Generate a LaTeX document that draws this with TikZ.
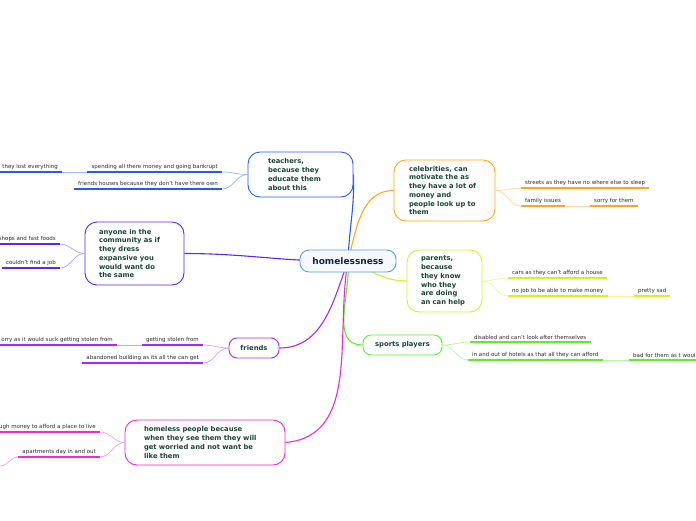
\documentclass[tikz,border=0pt]{standalone}
\usepackage{fontspec}
\setmainfont{DejaVu Sans}
\usetikzlibrary{backgrounds}

% branch colours
\definecolor{cteach}{RGB}{40,90,240}
\definecolor{cany}{RGB}{90,40,240}
\definecolor{cfriend}{RGB}{170,40,240}
\definecolor{chome}{RGB}{240,40,220}
\definecolor{cceleb}{RGB}{255,165,30}
\definecolor{cparent}{RGB}{210,240,40}
\definecolor{csport}{RGB}{90,240,40}
\definecolor{ccentre}{RGB}{90,160,220}
\definecolor{topictext}{RGB}{25,70,55}
\definecolor{centretext}{RGB}{20,35,70}
\definecolor{leaftext}{RGB}{45,45,45}

\tikzset{
  centre/.style={draw=ccentre, line width=0.9pt, rounded corners=9pt, fill=ccentre!6,
    text=centretext, font=\bfseries\fontsize{9}{11}\selectfont,
    minimum width=96pt, minimum height=22pt, inner sep=0pt},
  topic/.style={draw=#1, line width=0.9pt, rounded corners=12pt, fill=white,
    text=topictext, font=\bfseries\fontsize{6.8}{8.7}\selectfont,
    align=left, inner sep=0pt},
  pad/.style={execute at begin node={\leftskip=#1}},
  leaf/.style={inner xsep=4pt, inner ysep=2pt, text=leaftext,
    font=\fontsize{5.5}{6.5}\selectfont},
  leafline/.style={draw=#1, line width=1.6pt},
  branch/.style={draw=#1, line width=1.1pt},
  twig/.style={draw=#1!45, line width=0.7pt}
}

\begin{document}
\begin{tikzpicture}[x=1pt, y=-1pt]
    \useasboundingbox (0,0) rectangle (696,520);

    % centre and main topics
    \node[centre] (home) at (348,261) {homelessness};
    \coordinate (edge) at (0,466);

    \node[topic=cteach, text width=105pt, pad=20pt, minimum height=45pt] (teach) at (300.5,174.5)
        {teachers,\\because they\\educate them\\about this};
    \node[topic=cany, text width=99pt, pad=14pt, minimum height=63pt] (anyone) at (134.5,253.5)
        {anyone in the\\community as if\\they dress\\expansive you\\would want do\\the same};
    \node[topic=cfriend, minimum width=50pt, minimum height=20pt, rounded corners=8pt] (friends) at (254,348)
        {friends};
    \node[topic=chome, text width=160pt, pad=19pt, minimum height=45pt] (homeless) at (205,442.5)
        {homeless people because\\when they see them they will\\get worried and not want be\\like them};
    \node[topic=cceleb, text width=101pt, pad=15pt, minimum height=61pt] (celeb) at (444.5,190.5)
        {celebrities, can\\motivate the as\\they have a lot of\\money and\\people look up to\\them};
    \node[topic=cparent, text width=75pt, pad=14pt, minimum height=62pt] (parents) at (444.5,281)
        {parents,\\because\\they know\\who they\\are doing\\an can help};
    \node[topic=csport, minimum width=79pt, minimum height=20pt, rounded corners=8pt] (sports) at (402.5,345)
        {sports players};

    % main branches, under the boxes
    \begin{scope}[on background layer]
        \fill[white] (0,0) rectangle (696,520);
        \draw[branch=cteach] (home.center) to[out=88,in=-88] (teach.east);
        \draw[branch=cceleb] (home.center) to[out=75,in=180] (celeb.west);
        \draw[branch=cparent] (home.center) to[out=-20,in=180] (parents.west);
        \draw[branch=csport] (home.center) to[out=-85,in=180] (sports.west);
        \draw[branch=cany] (home.center) to[out=181,in=0] (anyone.east);
        \draw[branch=cfriend] (home.center) to[out=-110,in=0] (friends.east);
        \draw[branch=chome] (home.center) to[out=-100,in=5] (homeless.east);
    \end{scope}

    % teachers leaves
    \node[leaf, anchor=south east] (t1) at (222,172) {spending all there money and going bankrupt};
    \node[leaf, anchor=south east] (t1a) at (62,172) {they lost everything};
    \node[leaf, anchor=south east] (t2) at (222,189) {friends houses because they don't have there own};
    \draw[leafline=cteach] (t1.south west) -- (t1.south east);
    \draw[leafline=cteach] (t1a.south west) -- (t1a.south east);
    \draw[leafline=cteach] (t2.south west) -- (t2.south east);
    \draw[twig=cteach] (teach.west) to[out=180,in=0] (t1.south east);
    \draw[twig=cteach] (teach.west) to[out=180,in=0] (t2.south east);
    \draw[twig=cteach] (t1.south west) -- (t1a.south east);

    % anyone leaves
    \node[leaf, anchor=south east] (a1) at (60,244) {shops and fast foods};
    \node[leaf, anchor=south east] (a2) at (60,268) {couldn't find a job};
    \draw[leafline=cany] (a1.south west) -- (a1.south east);
    \draw[leafline=cany] (a2.south west) -- (a2.south east);
    \draw[twig=cany] (anyone.west) to[out=180,in=0] (a1.south east);
    \draw[twig=cany] (anyone.west) to[out=180,in=0] (a2.south east);

    % friends leaves
    \node[leaf, anchor=south east] (f1) at (203,345) {getting stolen from};
    \node[leaf, anchor=south east] (f1a) at (117,345) {orry as it would suck getting stolen from};
    \node[leaf, anchor=south east] (f2) at (203,363) {abandoned building as its all the can get};
    \draw[leafline=cfriend] (f1.south west) -- (f1.south east);
    \draw[leafline=cfriend] (f1a.south west) -- (f1a.south east);
    \draw[leafline=cfriend] (f2.south west) -- (f2.south east);
    \draw[twig=cfriend] (friends.west) to[out=180,in=0] (f1.south east);
    \draw[twig=cfriend] (friends.west) to[out=180,in=0] (f2.south east);
    \draw[twig=cfriend] (f1.south west) -- (f1a.south east);

    % homeless people leaves
    \node[leaf, anchor=south east] (h1) at (100,432) {ugh money to afford a place to live};
    \node[leaf, anchor=south east] (h2) at (100,457) {apartments day in and out};
    \draw[leafline=chome] (h1.south west) -- (h1.south east);
    \draw[leafline=chome] (h2.south west) -- (h2.south east);
    \draw[twig=chome] (homeless.west) to[out=180,in=0] (h1.south east);
    \draw[twig=chome] (homeless.west) to[out=180,in=0] (h2.south east);
    \draw[twig=chome] (h2.south west) to[out=180,in=0] (edge);

    % celebrities leaves
    \node[leaf, anchor=south west] (c1) at (521,188) {streets as they have no where else to sleep};
    \node[leaf, anchor=south west] (c2) at (521,206) {family issues};
    \node[leaf, anchor=south west] (c2a) at (590,206) {sorry for them};
    \draw[leafline=cceleb] (c1.south west) -- (c1.south east);
    \draw[leafline=cceleb] (c2.south west) -- (c2.south east);
    \draw[leafline=cceleb] (c2a.south west) -- (c2a.south east);
    \draw[twig=cceleb] (celeb.east) to[out=0,in=180] (c1.south west);
    \draw[twig=cceleb] (celeb.east) to[out=0,in=180] (c2.south west);
    \draw[twig=cceleb] (c2.south east) -- (c2a.south west);

    % parents leaves
    \node[leaf, anchor=south west] (p1) at (508,278) {cars as they can't afford a house};
    \node[leaf, anchor=south west] (p2) at (508,296) {no job to be able to make money};
    \node[leaf, anchor=south west] (p2a) at (634,296) {pretty sad};
    \draw[leafline=cparent] (p1.south west) -- (p1.south east);
    \draw[leafline=cparent] (p2.south west) -- (p2.south east);
    \draw[leafline=cparent] (p2a.south west) -- (p2a.south east);
    \draw[twig=cparent] (parents.east) to[out=0,in=180] (p1.south west);
    \draw[twig=cparent] (parents.east) to[out=0,in=180] (p2.south west);
    \draw[twig=cparent] (p2.south east) -- (p2a.south west);

    % sports players leaves
    \node[leaf, anchor=south west] (s1) at (470,342) {disabled and can't look after themselves};
    \node[leaf, anchor=south west] (s2) at (468,360) {in and out of hotels as that all they can afford};
    \node[leaf, anchor=south west] (s2a) at (629,360) {bad for them as t woul};
    \draw[leafline=csport] (s1.south west) -- (s1.south east);
    \draw[leafline=csport] (s2.south west) -- (s2.south east);
    \draw[leafline=csport] (s2a.south west) -- (s2a.south east);
    \draw[twig=csport] (sports.east) to[out=0,in=180] (s1.south west);
    \draw[twig=csport] (sports.east) to[out=0,in=180] (s2.south west);
    \draw[twig=csport] (s2.south east) -- (s2a.south west);
\end{tikzpicture}
\end{document}
